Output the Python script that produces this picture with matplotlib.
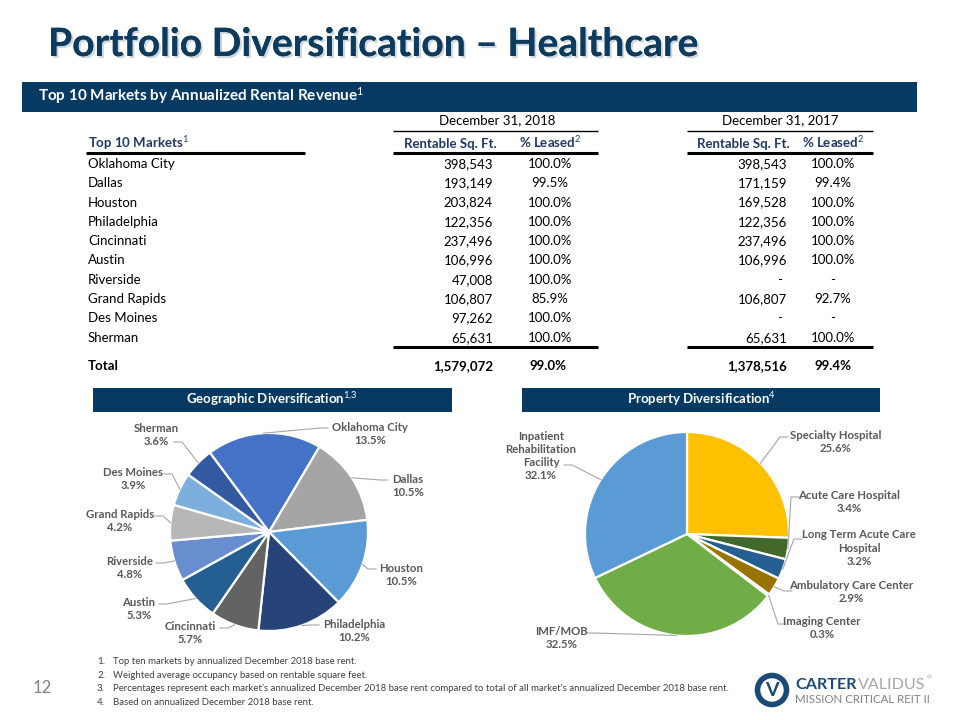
import matplotlib
matplotlib.use('Agg')
import matplotlib.pyplot as plt
import matplotlib.patheffects as pe
from matplotlib.patches import Rectangle, Circle
from matplotlib import font_manager
from matplotlib.font_manager import FontProperties
import numpy as np

# ---------------- data ----------------
markets = ['Oklahoma City', 'Dallas', 'Houston', 'Philadelphia', 'Cincinnati',
           'Austin', 'Riverside', 'Grand Rapids', 'Des Moines', 'Sherman']
sqft_2018 = [398543, 193149, 203824, 122356, 237496, 106996, 47008, 106807, 97262, 65631]
leased_2018 = [100.0, 99.5, 100.0, 100.0, 100.0, 100.0, 100.0, 85.9, 100.0, 100.0]
sqft_2017 = [398543, 171159, 169528, 122356, 237496, 106996, None, 106807, None, 65631]
leased_2017 = [100.0, 99.4, 100.0, 100.0, 100.0, 100.0, None, 92.7, None, 100.0]
total_sqft = [1579072, 1378516]
total_leased = [99.0, 99.4]

geo_values = [13.5, 10.5, 10.5, 10.2, 5.7, 5.3, 4.8, 4.2, 3.9, 3.6]
geo_colors = ['#4472C4', '#A5A5A5', '#5B9BD5', '#264478', '#636363',
              '#255E91', '#698ED0', '#B7B7B7', '#7CAFDD', '#335AA1']

prop_labels = ['Specialty Hospital', 'Acute Care Hospital', 'Long Term Acute Care\nHospital',
               'Ambulatory Care Center', 'Imaging Center', 'IMF/MOB',
               'Inpatient\nRehabilitation\nFacility']
prop_values = [25.6, 3.4, 3.2, 2.9, 0.3, 32.5, 32.1]
prop_colors = ['#FFC000', '#43682B', '#255E91', '#997300', '#F2F2F2', '#70AD47', '#5B9BD5']

footnotes = [
    'Top ten markets by annualized December 2018 base rent.',
    'Weighted average occupancy based on rentable square feet.',
    'Percentages represent each market\u2019s annualized December 2018 base rent compared to total of all market\u2019s annualized December 2018 base rent.',
    'Based on annualized December 2018 base rent.',
]

# ---------------- fonts ----------------
avail = {f.name for f in font_manager.fontManager.ttflist}
BASE = 'Lato' if 'Lato' in avail else 'DejaVu Sans'


def _w(f):
    w = f.weight
    if isinstance(w, str):
        w = font_manager.weight_dict.get(w, 400)
    return w


def find_condensed(bold):
    names = ['Liberation Sans Narrow', 'Noto Sans', 'Open Sans', 'Roboto', 'Lato']
    for nm in names:
        for f in font_manager.fontManager.ttflist:
            if f.name != nm or f.style != 'normal':
                continue
            st = str(f.stretch)
            cond = st in ('condensed', 'semi-condensed', 'extra-condensed') or \
                (st.isdigit() and int(st) < 500) or nm == 'Liberation Sans Narrow'
            if not cond:
                continue
            w = _w(f)
            if bold and 650 <= w <= 800:
                return FontProperties(fname=f.fname)
            if not bold and 350 <= w <= 450:
                return FontProperties(fname=f.fname)
    return None


COND_B = find_condensed(True)
COND_R = find_condensed(False)

plt.rcParams['font.family'] = [BASE, 'DejaVu Sans']
plt.rcParams['mathtext.fontset'] = 'custom'
plt.rcParams['mathtext.rm'] = BASE
plt.rcParams['mathtext.bf'] = BASE + ':bold'
plt.rcParams['mathtext.it'] = BASE

NAVY = '#063A63'
HDR = '#1F3864'

fig = plt.figure(figsize=(9.6, 7.2), dpi=100)
ax = fig.add_axes([0, 0, 1, 1])
H = 720


def P(x, y):
    return (x, H - y)


renderer = fig.canvas.get_renderer()


def fit(t, w):
    bb = t.get_window_extent(renderer=renderer)
    t.set_fontsize(t.get_fontsize() * w / bb.width)


def txt(x, y, s, **kw):
    return ax.text(*P(x, y), s, **kw)


def fp_or(fp, weight='normal'):
    if fp is not None:
        return dict(fontproperties=fp.copy())
    return dict(family=[BASE, 'DejaVu Sans'], fontweight=weight)


# ---------------- title ----------------
t = txt(48, 56, 'Portfolio Diversification \u2013 Healthcare', color='#0D3B5E',
        ha='left', va='baseline',
        path_effects=[pe.withSimplePatchShadow(offset=(1.5, -1.5), shadow_rgbFace='#B8C6D4', alpha=0.7),
                      pe.Normal()],
        **fp_or(COND_B, 'bold'))
t.set_fontsize(28)
fit(t, 650)

# ---------------- top band ----------------
ax.add_patch(Rectangle(P(22, 112), 895, 30, facecolor=NAVY, edgecolor='none'))
t = txt(38, 101, r'Top 10 Markets by Annualized Rental Revenue$^{1}$', color='white',
        fontweight='bold', fontsize=10, ha='left', va='baseline')
fit(t, 326)

# ---------------- table ----------------
FS = 9.5
B = 3.5  # baseline offset from row centre
txt(497, 121 + B, 'December 31, 2018', fontsize=FS, ha='center', va='baseline', color='black')
txt(780, 121 + B, 'December 31, 2017', fontsize=FS, ha='center', va='baseline', color='black')
for x0, x1 in [(393, 598), (687, 873)]:
    ax.plot([x0, x1], [H - 131, H - 131], color='black', lw=1.0, solid_capstyle='butt')
    ax.plot([x0, x1], [H - 153, H - 153], color='black', lw=2.2, solid_capstyle='butt')
    ax.plot([x0, x1], [H - 347, H - 347], color='black', lw=2.2, solid_capstyle='butt')
ax.plot([86, 305], [H - 153, H - 153], color='black', lw=2.2, solid_capstyle='butt')

txt(88, 144 + B, r'Top 10 Markets$^{1}$', fontsize=9.5, fontweight='bold', color=HDR,
    ha='left', va='baseline')
for xr, xc in [(497, 550), (790, 833)]:
    txt(xr, 144 + B, 'Rentable Sq. Ft.', fontsize=9.5, fontweight='bold', color=HDR,
        ha='right', va='baseline')
    txt(xc, 144 + B, r'% Leased$^{2}$', fontsize=9.5, fontweight='bold', color=HDR,
        ha='center', va='baseline')

row_y = [164.5 + 19.3 * i for i in range(len(markets))]


def fmt_sq(v):
    return '-' if v is None else f'{v:,}'


def fmt_pct(v):
    return '-' if v is None else f'{v:.1f}%'


for i, m in enumerate(markets):
    y = row_y[i] + B
    txt(88, y, m, fontsize=FS, ha='left', va='baseline', color='black')
    txt(493, y, fmt_sq(sqft_2018[i]), fontsize=FS, ha='right', va='baseline', color='black')
    txt(550, y, fmt_pct(leased_2018[i]), fontsize=FS, ha='center', va='baseline', color='black')
    if sqft_2017[i] is None:
        txt(782, y, '-', fontsize=FS, ha='right', va='baseline', color='black')
    else:
        txt(787, y, fmt_sq(sqft_2017[i]), fontsize=FS, ha='right', va='baseline', color='black')
    txt(833, y, fmt_pct(leased_2017[i]), fontsize=FS, ha='center', va='baseline', color='black')

ty = 367 + B
txt(88, ty, 'Total', fontsize=FS, fontweight='bold', ha='left', va='baseline', color='black')
txt(493, ty, fmt_sq(total_sqft[0]), fontsize=FS, fontweight='bold', ha='right', va='baseline')
txt(548, ty, fmt_pct(total_leased[0]), fontsize=FS, fontweight='bold', ha='center', va='baseline')
txt(787, ty, fmt_sq(total_sqft[1]), fontsize=FS, fontweight='bold', ha='right', va='baseline')
txt(833, ty, fmt_pct(total_leased[1]), fontsize=FS, fontweight='bold', ha='center', va='baseline')

# ---------------- section bands ----------------
ax.add_patch(Rectangle(P(93, 412), 359, 24, facecolor=NAVY, edgecolor='none'))
ax.add_patch(Rectangle(P(522, 412), 358, 24, facecolor=NAVY, edgecolor='none'))
txt(272, 404, r'Geographic Diversification$^{1{,}3}$', color='white', fontweight='bold',
    fontsize=9.5, ha='center', va='baseline')
txt(701, 404, r'Property Diversification$^{4}$', color='white', fontweight='bold',
    fontsize=9.5, ha='center', va='baseline')

# ---------------- pies ----------------
GC = P(269, 532)
GR = 99
gw, _ = ax.pie(geo_values, colors=geo_colors, startangle=126.7, counterclock=False,
               center=GC, radius=GR, frame=True,
               wedgeprops=dict(edgecolor='white', linewidth=1.6))

PC = P(687, 534)
PR = 102
pw, _ = ax.pie(prop_values, colors=prop_colors, startangle=90, counterclock=False,
               center=PC, radius=PR, frame=True,
               wedgeprops=dict(edgecolor='white', linewidth=1.6))

LBL = '#595959'
LFS = 8.2
# (block center x, block center y, leader end x, leader end y)
geo_pos = [(370, 434, 328, 428), (408, 486, 388, 480), (401, 575, 376, 569),
           (354, 631, 319, 625), (190, 633, 220, 628), (139, 609, 159, 604),
           (130, 568, 156, 563), (120, 521, 155, 516), (133, 479, 164, 474),
           (156, 435, 174, 442)]
prop_pos = [(836, 442, 788, 437), (849, 502, 799, 497), (859, 548, 802, 539),
            (851, 592, 792, 591), (822, 628, 786, 624), (562, 638, 586, 633),
            (541, 456, 564, 465)]


def leaders(wedges, center, radius, pos, labels, values):
    for w, (cx, cy, ex, ey), lab, v in zip(wedges, pos, labels, values):
        mid = np.deg2rad((w.theta1 + w.theta2) / 2)
        ax_, ay_ = center[0] + radius * np.cos(mid), center[1] + radius * np.sin(mid)
        exd, eyd = P(ex, ey)
        hx = exd + (8 if ax_ > exd else -8)
        ax.plot([ax_, hx, exd], [ay_, eyd, eyd], color='#A6A6A6', lw=0.8)
        txt(cx, cy, f'{lab}\n{v:.1f}%', fontsize=LFS, fontweight='bold', color=LBL,
            ha='center', va='center', linespacing=1.25)


leaders(gw, GC, GR, geo_pos, markets, geo_values)
leaders(pw, PC, PR, prop_pos, prop_labels, prop_values)

# ---------------- footnotes ----------------
fy = [661, 675, 688, 702]
fts = []
for i, (y, s) in enumerate(zip(fy, footnotes)):
    n = txt(97, y + 3, f'{i + 1}.', color='#404040', ha='left', va='baseline', **fp_or(COND_R))
    n.set_fontsize(7)
    fts.append(txt(113, y + 3, s, color='#404040', ha='left', va='baseline', **fp_or(COND_R)))
for f in fts:
    f.set_fontsize(7)
bb = fts[2].get_window_extent(renderer=renderer)
scale = 622 / bb.width
for f in fts:
    f.set_fontsize(7 * scale)
txt(42, 693, '12', fontsize=12, color='#808080', ha='center', va='baseline')

# ---------------- logo ----------------
lc = P(772, 690)
ax.add_patch(Circle(lc, 14.5, facecolor='white', edgecolor='#1B4A78', lw=4))
ax.text(lc[0], lc[1] - 1, 'V', fontsize=14, fontweight='bold', color='#1B4A78',
        ha='center', va='center')
t1 = txt(795, 689, 'CARTER', color='#1B4A78', ha='left', va='baseline', **fp_or(COND_B, 'bold'))
t2 = txt(0, 689, 'VALIDUS', color='#A6A6A6', ha='left', va='baseline', **fp_or(COND_R))
t1.set_fontsize(14)
t2.set_fontsize(14)
w1 = t1.get_window_extent(renderer=renderer).width
w2 = t2.get_window_extent(renderer=renderer).width
sc = 130 / (w1 + w2 + 1)
t1.set_fontsize(14 * sc)
t2.set_fontsize(14 * sc)
t2.set_x(795 + w1 * sc + 1)
txt(795 + (w1 + w2) * sc + 2, 678, '\u00ae', fontsize=4.5, color='#A6A6A6',
    ha='left', va='center')
t3 = txt(795, 703, 'MISSION CRITICAL REIT II', color='#808080',
         ha='left', va='baseline', **fp_or(COND_R))
t3.set_fontsize(9)
fit(t3, 135)

ax.set_xlim(0, 960)
ax.set_ylim(0, 720)
ax.set_aspect('equal')
ax.axis('off')

fig.savefig('out.png', dpi=100)
